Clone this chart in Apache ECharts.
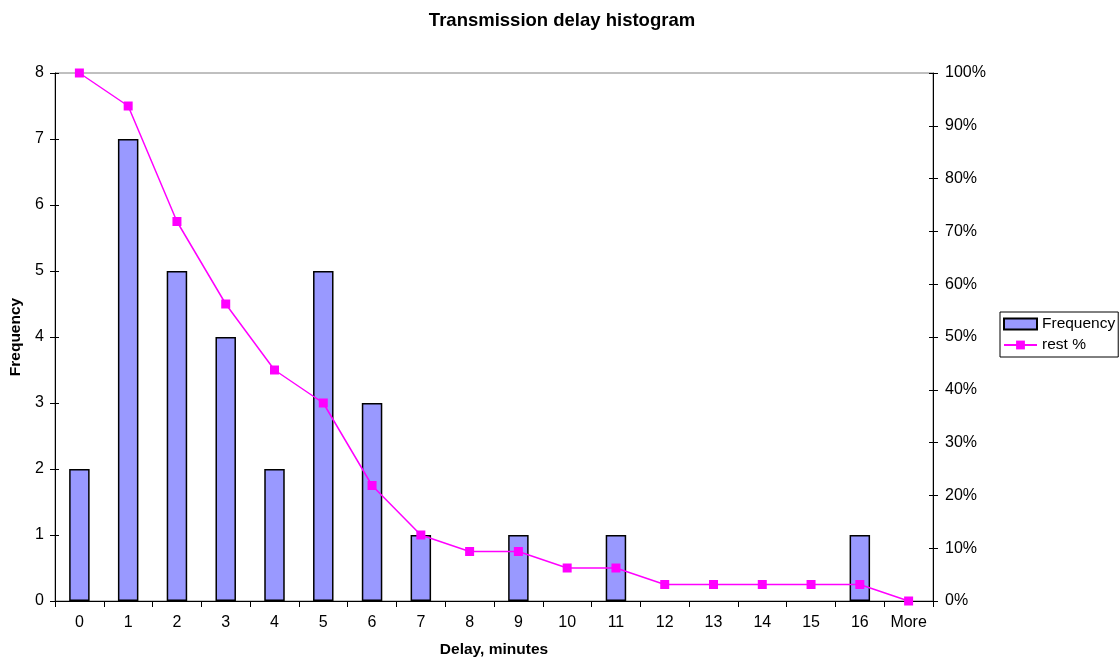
<!DOCTYPE html>
<html><head><meta charset="utf-8">
<script src="https://cdn.jsdelivr.net/npm/echarts@6/dist/echarts.min.js"></script>
<style>html,body{margin:0;padding:0;background:#fff}#c{width:1119px;height:660px}</style>
</head><body><div id="c"></div>
<script>
const categories = ['0','1','2','3','4','5','6','7','8','9','10','11','12','13','14','15','16','More'];
const frequency = [2,7,5,4,2,5,3,1,0,1,0,1,0,0,0,0,1,0];
const restPct = [100,93.75,71.875,56.25,43.75,37.5,21.875,12.5,9.375,9.375,6.25,6.25,3.125,3.125,3.125,3.125,3.125,0];

const font = 'Liberation Sans, Arial, sans-serif';
const chart = echarts.init(document.getElementById('c'));
chart.setOption({
  animation: false,
  backgroundColor: '#fff',
  title: { text: 'Transmission delay histogram', left: 557, top: 6, textAlign: 'center',
    textStyle: { fontFamily: font, fontSize: 18.5, fontWeight: 'bold', color: '#000' } },
  legend: {
    orient: 'vertical', left: 1000, top: 312, itemGap: 5, itemWidth: 33, itemHeight: 11,
    padding: [4, 3, 4, 3], borderColor: '#000', borderWidth: 1,
    textStyle: { fontFamily: font, fontSize: 15.5, color: '#000' },
    data: [{ name: 'Frequency', icon: 'rect' }, { name: 'rest %' }]
  },
  grid: { left: 55, right: 186, top: 73, bottom: 59, outerBoundsMode: 'none', containLabel: false,
    show: true, borderColor: '#808080', borderWidth: 1 },
  xAxis: {
    type: 'category', data: categories, boundaryGap: true,
    name: 'Delay, minutes', nameLocation: 'middle', nameGap: 41,
    nameTextStyle: { fontFamily: font, fontSize: 15.5, fontWeight: 'bold', color: '#000' },
    axisLine: { show: true, onZero: false, lineStyle: { color: '#000', width: 1 } },
    axisTick: { show: true, interval: 0, length: 6, lineStyle: { color: '#000' } },
    axisLabel: { fontFamily: font, fontSize: 16, color: '#000', margin: 14, interval: 0 }
  },
  yAxis: [
    { type: 'value', min: 0, max: 8, interval: 1, position: 'left',
      name: 'Frequency', nameLocation: 'middle', nameGap: 30, nameRotate: 90,
      nameTextStyle: { fontFamily: font, fontSize: 15.5, fontWeight: 'bold', color: '#000' },
      axisLine: { show: true, lineStyle: { color: '#000' } },
      axisTick: { show: true, length: 5, lineStyle: { color: '#000' } },
      axisLabel: { fontFamily: font, fontSize: 16, color: '#000', margin: 11 },
      splitLine: { show: false } },
    { type: 'value', min: 0, max: 100, interval: 10, position: 'right',
      axisLine: { show: true, lineStyle: { color: '#000' } },
      axisTick: { show: true, length: 5, lineStyle: { color: '#000' } },
      axisLabel: { fontFamily: font, fontSize: 16, color: '#000', margin: 12, formatter: '{value}%' },
      splitLine: { show: false } },
    { type: 'value', min: 0, max: 8, interval: 1, position: 'left',
      axisLine: { show: false }, axisLabel: { show: false }, splitLine: { show: false },
      axisTick: { show: true, inside: true, length: 4, lineStyle: { color: '#000' } } },
    { type: 'value', min: 0, max: 100, interval: 10, position: 'right',
      axisLine: { show: false }, axisLabel: { show: false }, splitLine: { show: false },
      axisTick: { show: true, inside: true, length: 4, lineStyle: { color: '#000' } } }
  ],
  series: [
    { name: 'Frequency', type: 'bar', data: frequency.map(v => v === 0 ? '-' : v), yAxisIndex: 0, barWidth: '42%',
      itemStyle: { color: '#9999ff', borderColor: '#000', borderWidth: 1.5 } },
    { name: 'rest %', type: 'line', data: restPct, yAxisIndex: 1,
      symbol: 'rect', symbolSize: 9,
      lineStyle: { color: '#ff00ff', width: 1.5 },
      itemStyle: { color: '#ff00ff' } }
  ]
});
</script></body></html>
